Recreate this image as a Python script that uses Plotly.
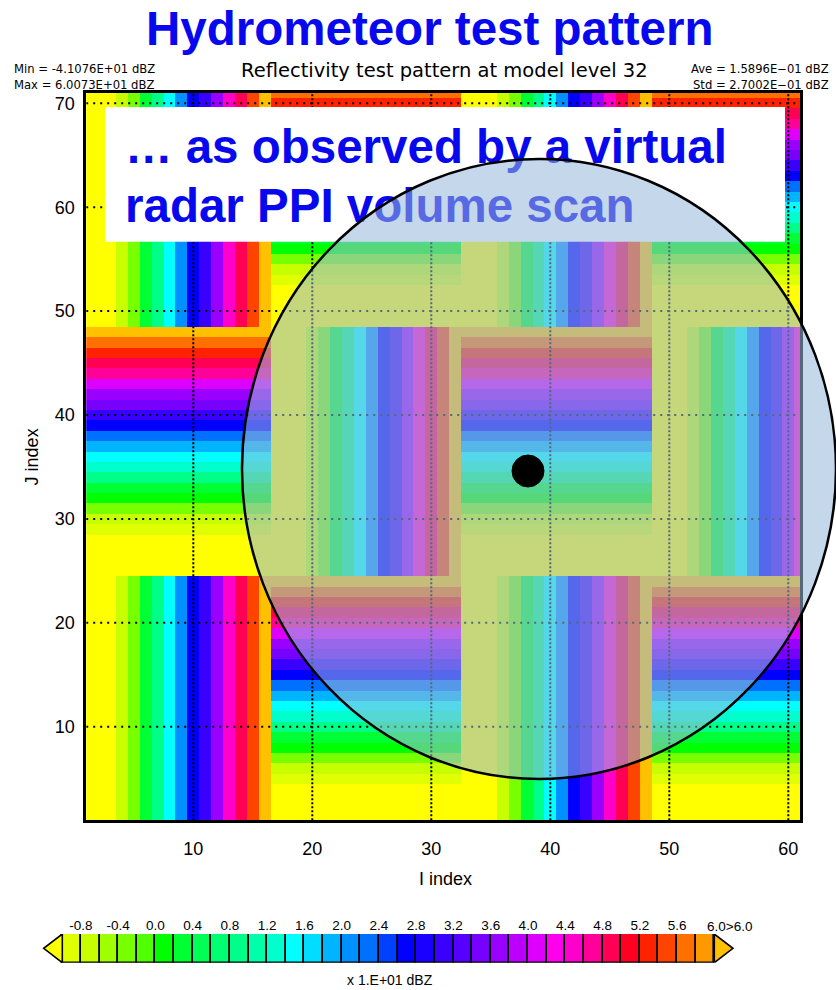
import plotly.graph_objects as go

W, H = 836, 990

# ---------------- data ----------------
i_index = list(range(1, 62))          # I index (x)
j_index = list(range(1, 72))          # J index (y)

block_size_i = 16                     # test-pattern tile width  (grid points)
block_size_j = 24                     # test-pattern tile height (grid points)
vertical_ramp_start = 3               # background columns before the I-ramp
horizontal_ramp_start = 4             # background rows before the J-ramp

# reflectivity (dBZ)
vertical_ramp_dbz = [-6.5, -2.5, 3.5, 9.0, 15.0, 21.5, 27.0, 31.5, 37.5, 44.5,
                     49.5, 54.5, 60.073]
horizontal_ramp_dbz = [-9.5, -6.5, -3.0, 1.0, 3.5, 8.5, 12.5, 15.5, 19.5, 23.0,
                       27.0, 31.0, 35.0, 37.5, 41.5, 46.5, 49.0, 53.0, 56.5, 60.073]
background_dbz = -41.076

x_ticks = [10, 20, 30, 40, 50, 60]
y_ticks = [10, 20, 30, 40, 50, 60, 70]

cbar_levels = [-10, -8, -6, -4, -2, 0, 2, 4, 6, 8, 10, 12, 14, 16, 18, 20, 22, 24,
               26, 28, 30, 32, 34, 36, 38, 40, 42, 44, 46, 48, 50, 52, 54, 56, 58, 60]
cbar_colors = ["#e0ff00", "#c8ff00", "#a0ff00", "#78ff00", "#50ff00", "#00ff00",
               "#00ff33", "#00ff55", "#00ff70", "#00ff88", "#00ffaa", "#00ffcc",
               "#00ffff", "#00ddff", "#00b4ff", "#0090ff", "#0070ff", "#0040ff",
               "#0000ff", "#1a00ff", "#3a00ff", "#5500ff", "#7700ff", "#9900ff",
               "#bb00ff", "#dd00ff", "#ff00ee", "#ff00cc", "#ff0099", "#ff0055",
               "#ff0022", "#ff2200", "#ff4400", "#ff7000", "#ff9900"]
under_color = "#ffff00"
over_color = "#ffc000"
cbar_tick_vals = [-8, -4, 0, 4, 8, 12, 16, 20, 24, 28, 32, 36, 40, 44, 48, 52, 56]
cbar_tick_text = ["-0.8", "-0.4", "0.0", "0.4", "0.8", "1.2", "1.6", "2.0", "2.4",
                  "2.8", "3.2", "3.6", "4.0", "4.4", "4.8", "5.2", "5.6"]

# ---------------- build field ----------------
z = []
for j in j_index:
    bj, oj = divmod(j - 1, block_size_j)
    row = []
    for i in i_index:
        bi, oi = divmod(i - 1, block_size_i)
        if (bi + bj) % 2 == 0:
            v = vertical_ramp_dbz[oi - vertical_ramp_start] if oi >= vertical_ramp_start else background_dbz
        else:
            v = horizontal_ramp_dbz[oj - horizontal_ramp_start] if oj >= horizontal_ramp_start else background_dbz
        row.append(v)
    z.append(row)

# discrete colour scale: under | 35 boxes | over, each 2 dBZ wide
bins = [under_color] + cbar_colors + [over_color]
nb = len(bins)
step = cbar_levels[1] - cbar_levels[0]
zmin = cbar_levels[0] - step
zmax = cbar_levels[-1] + step
colorscale = []
for k, c in enumerate(bins):
    colorscale.append([k / nb, c])
    colorscale.append([(k + 1) / nb, c])

# ---------------- geometry (pixels) ----------------
PX0, PX1 = 86.2, 800.2     # plot left/right
PY0, PY1 = 92.9, 820.2     # plot top/bottom
XR = [1, 61]
YR = [1, 71]


def px2x(px):
    return XR[0] + (px - PX0) * (XR[1] - XR[0]) / (PX1 - PX0)


def px2y(py):
    return YR[1] - (py - PY0) * (YR[1] - YR[0]) / (PY1 - PY0)


def fx(px):
    return px / W


def fy(py):
    return 1 - py / H


BLUE = "#0808ee"
FONT = "Liberation Sans"

fig = go.Figure()

fig.add_trace(go.Heatmap(
    x=i_index, y=j_index, z=z, zmin=zmin, zmax=zmax, colorscale=colorscale,
    showscale=False, hoverinfo="skip"))

# dotted grid drawn over the field
gx, gy = [], []
for t in x_ticks:
    gx += [t, t, None]
    gy += [YR[0], YR[1], None]
fig.add_trace(go.Scatter(x=gx, y=gy, mode="lines", hoverinfo="skip", showlegend=False,
                         line=dict(color="black", width=2, dash="2px,2px")))
hx, hy = [], []
for t in y_ticks:
    hx += [XR[0], XR[1], None]
    hy += [t, t, None]
fig.add_trace(go.Scatter(x=hx, y=hy, mode="lines", hoverinfo="skip", showlegend=False,
                         line=dict(color="black", width=2, dash="2px,5px")))

# white caption box and its text (below the radar circle)
bx0, bx1, by0, by1 = px2x(105), px2x(785), px2y(107), px2y(241.7)
fig.add_trace(go.Scatter(x=[bx0, bx1, bx1, bx0, bx0], y=[by0, by0, by1, by1, by0],
                         mode="lines", fill="toself", fillcolor="white",
                         line=dict(width=0, color="white"), hoverinfo="skip", showlegend=False))
fig.add_trace(go.Scatter(
    x=[px2x(125), px2x(125)], y=[px2y(151.5), px2y(210.5)], mode="text",
    text=["<b>… as observed by a virtual</b>", "<b>radar PPI volume scan</b>"],
    textposition="middle right", hoverinfo="skip", showlegend=False,
    textfont=dict(family=FONT, size=47.5, color=BLUE)))

# ---------------- colour bar (manual, boxes + triangles) ----------------
CB_L, CB_R, CB_T, CB_B = 62.3, 714.3, 934.0, 962.7
DOM_L, DOM_R = 40.0, 740.0
scale = (CB_R - CB_L) / (cbar_levels[-1] - cbar_levels[0])
x3_range = [cbar_levels[0] - (CB_L - DOM_L) / scale, cbar_levels[-1] + (DOM_R - CB_R) / scale]
centers = [(a + b) / 2 for a, b in zip(cbar_levels[:-1], cbar_levels[1:])]
fig.add_trace(go.Bar(x=centers, y=[1] * len(centers), base=0, width=step,
                     marker=dict(color=cbar_colors, line=dict(color="black", width=1.6)),
                     xaxis="x3", yaxis="y3", hoverinfo="skip", showlegend=False))
lo, hi = cbar_levels[0], cbar_levels[-1]
fig.add_trace(go.Scatter(x=[lo, lo - step, lo, lo], y=[0, 0.5, 1, 0], mode="lines", fill="toself",
                         fillcolor=under_color, line=dict(color="black", width=1.6),
                         xaxis="x3", yaxis="y3", hoverinfo="skip", showlegend=False))
fig.add_trace(go.Scatter(x=[hi, hi + step, hi, hi], y=[0, 0.5, 1, 0], mode="lines", fill="toself",
                         fillcolor=over_color, line=dict(color="black", width=1.6),
                         xaxis="x3", yaxis="y3", hoverinfo="skip", showlegend=False))

# ---------------- layout ----------------
fig.update_layout(
    width=W, height=H, margin=dict(l=0, r=0, t=0, b=0, pad=0),
    paper_bgcolor="white", plot_bgcolor="white", showlegend=False,
    font=dict(family=FONT, color="black"),
    xaxis=dict(domain=[fx(PX0), fx(PX1)], range=XR, tickvals=x_ticks, ticks="",
               showgrid=False, zeroline=False, showline=True, linecolor="black", linewidth=2.5,
               mirror=True, tickfont=dict(size=18, family=FONT), ticklabelstandoff=10,
               automargin=False, layer="above traces"),
    yaxis=dict(domain=[fy(PY1), fy(PY0)], range=YR, tickvals=y_ticks, ticks="",
               showgrid=False, zeroline=False, showline=True, linecolor="black", linewidth=2.5,
               mirror=True, tickfont=dict(size=18, family=FONT), ticklabelstandoff=5,
               automargin=False, layer="above traces"),
    xaxis3=dict(domain=[fx(DOM_L), fx(DOM_R)], range=x3_range, anchor="y3", side="top",
                tickvals=cbar_tick_vals, ticktext=cbar_tick_text, ticks="",
                showgrid=False, zeroline=False, showline=False,
                tickfont=dict(size=13.5, family=FONT), ticklabelstandoff=0, automargin=False),
    yaxis3=dict(domain=[fy(CB_B), fy(CB_T)], range=[0, 1], anchor="x3", visible=False),
    bargap=0,
)

annotations = [
    dict(text="<b>Hydrometeor test pattern</b>", x=fx(430), y=fy(28.6),
         font=dict(size=47.5, color=BLUE, family=FONT)),
    dict(text="Reflectivity test pattern at model level 32", x=fx(444.6), y=fy(70),
         font=dict(size=19.5, family="DejaVu Sans")),
    dict(text="Min = -4.1076E+01 dBZ", x=fx(11.7), y=fy(69.3), xanchor="left",
         font=dict(size=11.6, family="DejaVu Sans")),
    dict(text="Max = 6.0073E+01 dBZ", x=fx(11.7), y=fy(85), xanchor="left",
         font=dict(size=11.6, family="DejaVu Sans")),
    dict(text="Ave = 1.5896E\u221201 dBZ", x=fx(831), y=fy(69.3), xanchor="right",
         font=dict(size=11.6, family="DejaVu Sans")),
    dict(text="Std = 2.7002E\u221201 dBZ", x=fx(831), y=fy(85.3), xanchor="right",
         font=dict(size=11.6, family="DejaVu Sans")),
    dict(text="I index", x=fx(445), y=fy(879), font=dict(size=18, family=FONT)),
    dict(text="J index", x=fx(31.7), y=fy(456.7), textangle=-90, font=dict(size=18, family=FONT)),
    dict(text="6.0>6.0", x=hi, y=1, xref="x3", yref="y3", xanchor="left", yanchor="bottom",
         xshift=-9, yshift=-2, font=dict(size=13.5, family=FONT)),
    dict(text="x 1.E+01 dBZ", x=fx(390), y=fy(980), font=dict(size=14, family=FONT)),
]
for a in annotations:
    a.setdefault("xref", "paper")
    a.setdefault("yref", "paper")
    a.setdefault("xanchor", "center")
    a.setdefault("yanchor", "middle")
    a["showarrow"] = False
fig.update_layout(annotations=annotations)

# radar circle (tints what lies beneath) and radar site
fig.add_shape(type="circle", xref="paper", yref="paper",
              x0=fx(539 - 297), x1=fx(539 + 297), y0=fy(469 + 310), y1=fy(469 - 310),
              fillcolor="rgba(152,184,218,0.56)", line=dict(color="black", width=2.5), layer="above")
fig.add_shape(type="circle", xref="paper", yref="paper",
              x0=fx(528 - 16), x1=fx(528 + 16), y0=fy(471 + 16), y1=fy(471 - 16),
              fillcolor="black", line=dict(color="black", width=1), layer="above")

fig.write_html("out.html")
